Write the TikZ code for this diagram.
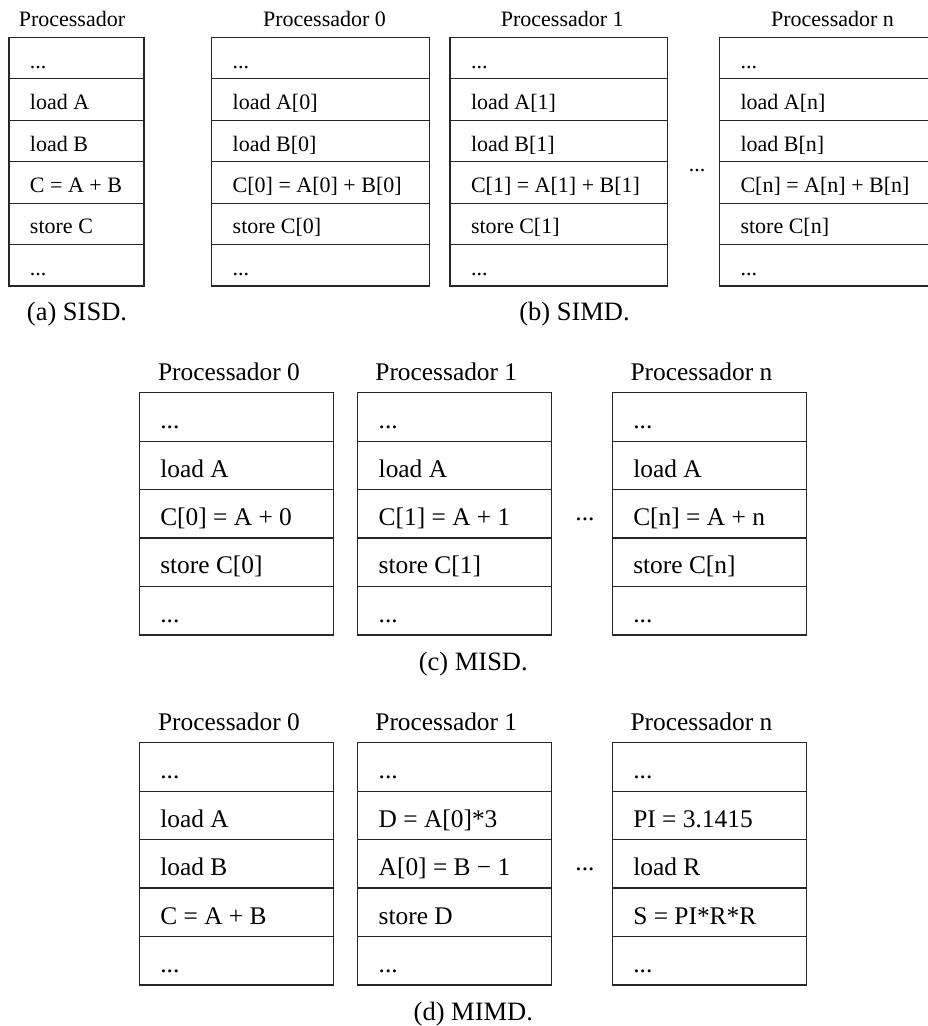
\documentclass[tikz,border=0pt]{standalone}
\usepackage{fontspec}
\setmainfont{Liberation Serif}
\usetikzlibrary{positioning}
\newcommand{\dotsrow}{...}

\begin{document}
\begin{tikzpicture}[
  x=1pt, y=-1pt,
  fsmall/.style={font=\fontsize{22}{26}\selectfont},
  flarge/.style={font=\fontsize{25.4}{30}\selectfont},
  fcap/.style={font=\fontsize{26.5}{31}\selectfont},
  cell/.style={draw=black!85, line width=1.2pt, anchor=north west,
               align=flush left, inner xsep=21pt, inner ysep=0pt, outer sep=0pt,
               execute at begin node={\rule[-0.13em]{0pt}{1.18em}}},
  celltop/.style={cell, fsmall, minimum height=41.45pt, text width=175.6pt},
  cellbot/.style={cell, flarge, minimum height=48.46pt, text width=152pt},
  ttl/.style={anchor=base},
  gap/.style={anchor=base},
  capt/.style={fcap, anchor=base},
]
\useasboundingbox (0,0) rectangle (928,1026);
\clip (0,0) rectangle (928,1026);
% (a) SISD
\node[ttl, fsmall] (ta) at (72,26.7) {Processador};
\foreach \t [count=\i] in {\dotsrow, load A, load B, C = A + B, store C, \dotsrow}
  \node[celltop, text width=93pt] (sisd-\i) at (9,{37.3+41.45*(\i-1)}) {\t};
\node[capt] (capa) at (77,320) {(a) SISD.};
% (b) SIMD
\node[ttl, fsmall] (tb0) at (324.5,26.7) {Processador 0};
\node[ttl, fsmall] (tb1) at (562.3,26.7) {Processador 1};
\node[ttl, fsmall] (tbn) at (832.5,26.7) {Processador n};
\foreach \t [count=\i] in {\dotsrow, load A[0], load B[0], C[0] = A[0] + B[0], store C[0], \dotsrow}
  \node[celltop] (simd0-\i) at (211.7,{37.3+41.45*(\i-1)}) {\t};
\foreach \t [count=\i] in {\dotsrow, load A[1], load B[1], C[1] = A[1] + B[1], store C[1], \dotsrow}
  \node[celltop] (simd1-\i) at (450,{37.3+41.45*(\i-1)}) {\t};
\foreach \t [count=\i] in {\dotsrow, load A[n], load B[n], C[n] = A[n] + B[n], store C[n], \dotsrow}
  \node[celltop] (simdn-\i) at (719.5,{37.3+41.45*(\i-1)}) {\t};
\node[gap, fsmall] (gb) at (697,171) {...};
\node[capt] (capb) at (574.5,320) {(b) SIMD.};
% (c) MISD
\node[ttl, flarge] (tc0) at (229,380) {Processador 0};
\node[ttl, flarge] (tc1) at (446.3,380) {Processador 1};
\node[ttl, flarge] (tcn) at (701.5,380) {Processador n};
\foreach \t [count=\i] in {\dotsrow, load A, C[0] = A + 0, store C[0], \dotsrow}
  \node[cellbot] (misd0-\i) at (139.3,{392.7+48.46*(\i-1)}) {\t};
\foreach \t [count=\i] in {\dotsrow, load A, C[1] = A + 1, store C[1], \dotsrow}
  \node[cellbot] (misd1-\i) at (357.7,{392.7+48.46*(\i-1)}) {\t};
\foreach \t [count=\i] in {\dotsrow, load A, C[n] = A + n, store C[n], \dotsrow}
  \node[cellbot] (misdn-\i) at (612.3,{392.7+48.46*(\i-1)}) {\t};
\node[gap, flarge] (gc) at (585,520) {...};
\node[capt] (capc) at (473.3,670) {(c) MISD.};
% (d) MIMD
\node[ttl, flarge] (td0) at (229,730) {Processador 0};
\node[ttl, flarge] (td1) at (446.3,730) {Processador 1};
\node[ttl, flarge] (tdn) at (701.5,730) {Processador n};
\foreach \t [count=\i] in {\dotsrow, load A, load B, C = A + B, \dotsrow}
  \node[cellbot] (mimd0-\i) at (139.3,{742.7+48.46*(\i-1)}) {\t};
\foreach \t [count=\i] in {\dotsrow, D = A[0]*3, A[0] = B − 1, store D, \dotsrow}
  \node[cellbot] (mimd1-\i) at (357.7,{742.7+48.46*(\i-1)}) {\t};
\foreach \t [count=\i] in {\dotsrow, PI = 3.1415, load R, S = PI*R*R, \dotsrow}
  \node[cellbot] (mimdn-\i) at (612.3,{742.7+48.46*(\i-1)}) {\t};
\node[gap, flarge] (gd) at (585,870) {...};
\node[capt] (capd) at (473.3,1020) {(d) MIMD.};
\end{tikzpicture}
\end{document}
